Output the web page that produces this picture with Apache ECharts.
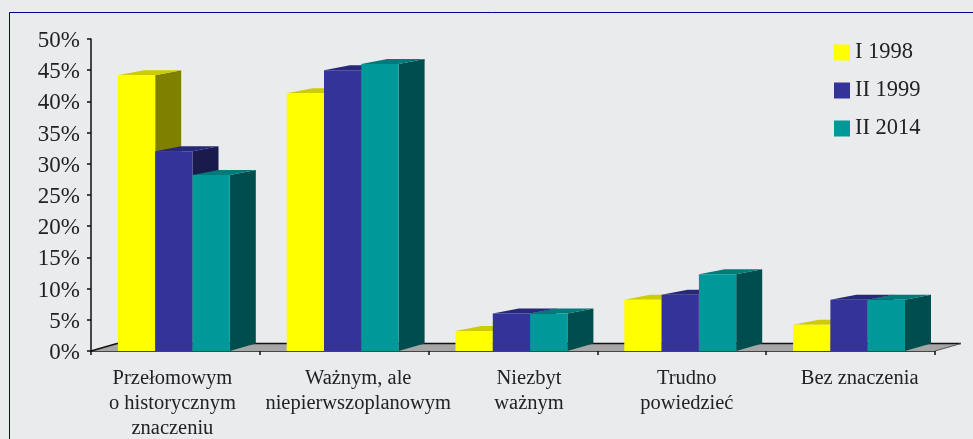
<!DOCTYPE html>
<html>
<head>
<meta charset="utf-8">
<style>html,body{margin:0;padding:0;background:#E9EBED;overflow:hidden}#c{width:973px;height:439px}</style>
<script src="https://cdn.jsdelivr.net/npm/echarts@6/dist/echarts.min.js"></script>
</head>
<body>
<div id="c"></div>
<script>
const categories = ['Przełomowym\no historycznym\nznaczeniu','Ważnym, ale\nniepierwszoplanowym','Niezbyt\nważnym','Trudno\npowiedzieć','Bez znaczenia'];
const labelShifts = [-3, 14, 16, 5, 9];
const s1998 = [44.2,41.3,3.2,8.2,4.2];
const s1999 = [32,45,6,9,8.2];
const s2014 = [28.2,46,6,12.3,8.2];

const FONT = '"Liberation Serif","Times New Roman",serif';
const DX = 26, DY_TOP = 5, DY_FLOOR = 7.5, BAR_W = 37.3, GROUP_START = -57.5;

function shade(front, top, side, slot) {
  return function (params, api) {
    const base = api.coord([api.value(0), 0]);
    const tip = api.coord([api.value(0), api.value(1)]);
    const x0 = base[0] + GROUP_START + slot * BAR_W, x1 = x0 + BAR_W;
    const y0 = base[1], y1 = tip[1];
    return {
      type: 'group',
      children: [
        {type:'polygon',shape:{points:[[x1,y0],[x1+DX,y0-DY_FLOOR],[x1+DX,y1-DY_TOP],[x1,y1]]},style:{fill:side}},
        {type:'polygon',shape:{points:[[x0,y1],[x0+DX,y1-DY_TOP],[x1+DX,y1-DY_TOP],[x1,y1]]},style:{fill:top}},
        {type:'rect',shape:{x:x0,y:y1,width:BAR_W,height:y0-y1},style:{fill:front}}
      ]
    };
  };
}
function barSeries(name, values, front, top, side, slot) {
  return {
    type:'custom', name, z:3,
    renderItem: shade(front, top, side, slot),
    encode:{x:0,y:1},
    itemStyle:{color:front},
    data: values.map((v,i)=>[i,v])
  };
}
function floorItem(params, api) {
  const c = params.coordSys, yb = c.y + c.height, xl = c.x, xr = c.x + c.width;
  return {
    type:'group',
    children:[
      {type:'polygon',shape:{points:[[xl,yb],[xl+DX,yb-DY_FLOOR],[xr+DX,yb-DY_FLOOR],[xr,yb]]},style:{fill:'#A6A6A6'}},
      {type:'line',shape:{x1:xl,y1:yb,x2:xl+DX,y2:yb-DY_FLOOR},style:{stroke:'#111',lineWidth:1.5}},
      {type:'line',shape:{x1:xl+DX,y1:yb-DY_FLOOR,x2:xr+DX,y2:yb-DY_FLOOR},style:{stroke:'#111',lineWidth:1.5}},
      {type:'line',shape:{x1:xr,y1:yb,x2:xr+DX,y2:yb-DY_FLOOR},style:{stroke:'#555',lineWidth:1}}
    ]
  };
}
const rich = {};
labelShifts.forEach((s,i)=>{
  rich['c'+i] = {fontFamily:FONT,fontSize:20.5,lineHeight:25,color:'#222',
    padding: s>=0 ? [0,0,0,2*s] : [0,-2*s,0,0]};
});
const chart = echarts.init(document.getElementById('c'),null,{renderer:'canvas'});
chart.setOption({
  animation:false,
  backgroundColor:'#E9EBED',
  grid:{left:91,right:38,top:39,bottom:88},
  legend:{
    orient:'vertical',left:834,top:41,padding:0,itemWidth:16,itemHeight:16,itemGap:15,icon:'rect',
    selectedMode:false,
    data:['I 1998','II 1999','II 2014'],
    textStyle:{fontFamily:FONT,fontSize:22.5,color:'#222'}
  },
  xAxis:{
    type:'category',data:categories,
    boundaryGap:true,
    axisLine:{lineStyle:{color:'#111',width:1.5}},
    axisTick:{show:true,length:4,lineStyle:{color:'#111',width:1.5},alignWithLabel:false},
    axisLabel:{
      interval:0,margin:15,
      formatter:function(v,i){return v.split('\n').map(l=>'{c'+i+'|'+l+'}').join('\n');},
      rich
    }
  },
  yAxis:{
    type:'value',min:0,max:50,interval:5,
    splitLine:{show:false},
    axisLine:{show:true,lineStyle:{color:'#111',width:1.5}},
    axisTick:{show:true,length:4,lineStyle:{color:'#111',width:1.5}},
    axisLabel:{margin:11,formatter:'{y|{value}%}',rich:{y:{fontFamily:FONT,fontSize:23,color:'#222',padding:[4,0,0,0]}}}
  },
  graphic:[
    {type:'line',silent:true,shape:{x1:9.5,y1:12.5,x2:973,y2:12.5},style:{stroke:'#00008B',lineWidth:1}},
    {type:'line',silent:true,shape:{x1:9.5,y1:12.5,x2:9.5,y2:439},style:{stroke:'#00008B',lineWidth:1}}
  ],
  series:[
    {type:'custom',name:'floor',z:1,renderItem:floorItem,encode:{x:0,y:1},data:[[0,0]],silent:true},
    barSeries('I 1998',s1998,'#FFFF00','#CCCC00','#808000',0),
    barSeries('II 1999',s1999,'#333399','#28287A','#1A1A4D',1),
    barSeries('II 2014',s2014,'#009999','#007A7A','#004D4D',2)
  ]
});
</script>
</body>
</html>
